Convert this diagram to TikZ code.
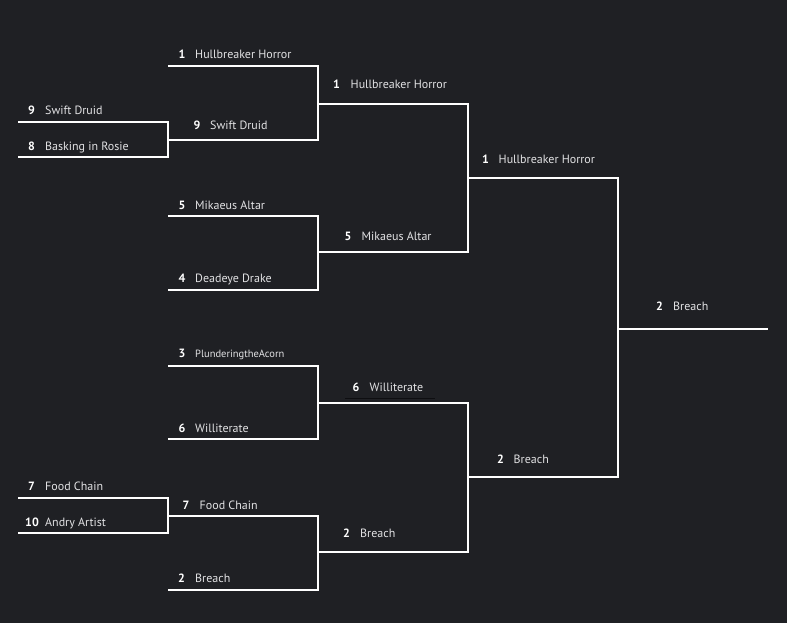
\documentclass[tikz,border=0pt]{standalone}
\usepackage{fontspec}
\setmainfont{PT Sans}
\definecolor{bg}{RGB}{31,32,36}
\definecolor{txt}{RGB}{226,226,228}
\definecolor{uline}{RGB}{14,14,17}
\begin{document}
\begin{tikzpicture}[x=1pt,y=-1pt,
  slotline/.style={draw=white,line width=1.5pt,line cap=rect},
  joinline/.style={draw=white,line width=1.5pt},
  seed/.style={anchor=base west,inner sep=0pt,text=white,font=\fontsize{12}{14}\selectfont\bfseries},
  team/.style={anchor=base west,inner sep=0pt,text=txt,font=\fontsize{12}{14}\selectfont},
  smallteam/.style={anchor=base west,inner sep=0pt,text=txt,font=\fontsize{10.5}{12}\selectfont}]
\fill[bg] (0,0) rectangle (787,623);
\useasboundingbox (0,0) rectangle (787,623);
% slot coordinates
\foreach \n/\xa/\xb/\y in {
  a1/19/168/122, a2/19/168/157, a3/19/168/498, a4/19/168/533,
  b1/169/318/66, b2/169/318/140, b3/169/318/216, b4/169/318/290,
  b5/169/318/366, b6/169/318/439, b7/169/318/516, b8/169/318/590,
  c1/319/468/104, c2/319/468/252, c3/319/468/403, c4/319/468/552,
  d1/469/618/178, d2/469/618/477, e1/619/767/329}{
  \coordinate (\n L) at (\xa,\y);
  \coordinate (\n R) at (\xb,\y);
}
% slot lines
\foreach \n in {a1,a2,a3,a4,b1,b2,b3,b4,b5,b6,b7,b8,c1,c2,c3,c4,d1,d2,e1}{
  \draw[slotline] (\n L) -- (\n R);
}
% joins
\foreach \t/\b in {a1/a2,a3/a4,b1/b2,b3/b4,b5/b6,b7/b8,c1/c2,c3/c4,d1/d2}{
  \draw[joinline] (\t R) -- (\b R);
}
% faint underline
\coordinate (ulA) at (345,398);
\coordinate (ulB) at (435,398);
\draw[uline,line width=0.8pt] (ulA) -- (ulB);
% labels
\foreach \n/\sx/\nx/\y/\s/\t in {
  a1/28/45/115/9/Swift Druid,
  a2/28/45/150/8/Basking in Rosie,
  a3/28/45/490.5/7/Food Chain,
  a4/25/45/526/10/Andry Artist,
  b1/178.5/195/58.5/1/Hullbreaker Horror,
  b2/193.5/210/129.5/9/Swift Druid,
  b3/178.5/195/209/5/Mikaeus Altar,
  b4/178.5/195/282.5/4/Deadeye Drake,
  b6/178.5/195/432.5/6/Williterate,
  b7/182.5/199.5/509.5/7/Food Chain,
  b8/178/195/582.5/2/Breach,
  c1/333/350.5/89/1/Hullbreaker Horror,
  c2/344.5/361.5/240.5/5/Mikaeus Altar,
  c3/352.5/369.5/391.5/6/Williterate,
  c4/343/360/537/2/Breach,
  d1/482/498.5/164/1/Hullbreaker Horror,
  d2/497/513.5/463.5/2/Breach,
  e1/656/673/310/2/Breach}{
  \node[seed] (\n s) at (\sx,\y) {\s};
  \node[team] (\n t) at (\nx,\y) {\t};
}
\node[seed] (b5s) at (178.5,357) {3};
\node[smallteam] (b5t) at (195,357) {PlunderingtheAcorn};
\end{tikzpicture}
\end{document}
